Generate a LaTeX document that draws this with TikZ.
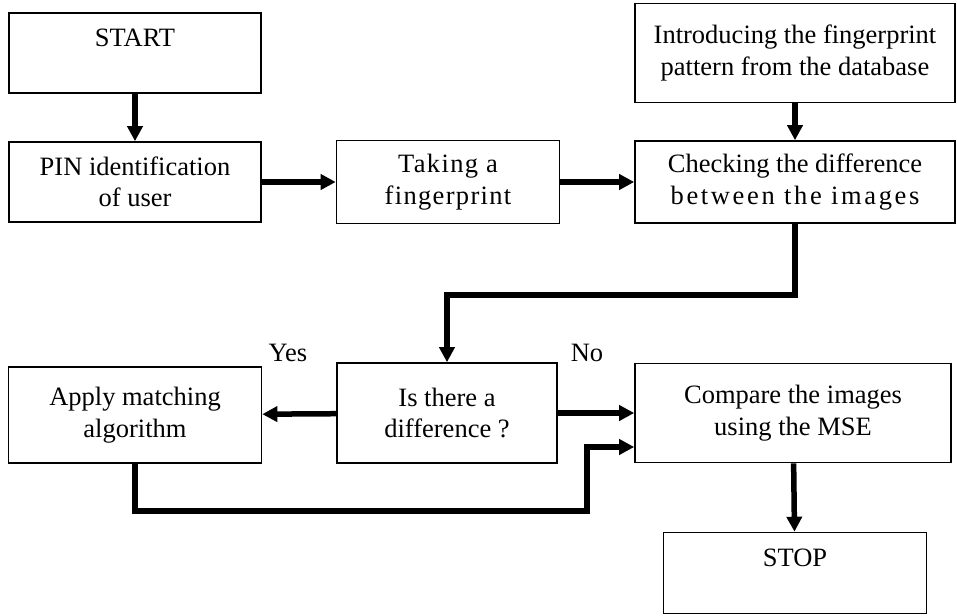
\documentclass[tikz,border=0pt]{standalone}
\usepackage{fontspec}
\setmainfont{Liberation Serif}
\newfontfamily\widefont[LetterSpace=5]{Liberation Serif}
\newfontfamily\widerfont[LetterSpace=10]{Liberation Serif}
\usetikzlibrary{arrows.meta}
\usetikzlibrary{positioning}

\begin{document}
\begin{tikzpicture}[x=1pt,y=-1pt,->,>={Triangle[length=15pt,width=15pt]},line width=5.5pt,
    box/.style={rectangle,draw,line width=1.6pt,align=center,inner sep=0pt,font=\fontsize{26.5}{31.5}\selectfont},
    tag/.style={inner sep=0pt,font=\fontsize{26.5}{31.5}\selectfont}]
  \useasboundingbox (0,0) rectangle (957,615);
  % boxes
  \node[box,minimum width=252pt,minimum height=80pt] (start) at (135,53) {START\\~};
  \node[box,minimum width=252pt,minimum height=80pt] (pin) at (135,182) {PIN identification\\of user};
  \node[box,minimum width=223pt,minimum height=83pt] (take) at (448,182) {\widefont Taking a\\\widefont fingerprint};
  \node[box,minimum width=320pt,minimum height=99pt] (intro) at (795,53) {Introducing the fingerprint\\pattern from the database};
  \node[box,minimum width=320pt,minimum height=82pt] (check) at (795,182) {Checking the difference\\\widerfont between the images};
  \node[box,minimum width=253pt,minimum height=96pt] (apply) at (135,415) {Apply matching\\algorithm};
  \node[box,minimum width=220pt,minimum height=100pt] (diff) at (447,413) {Is there a\\difference ?};
  \node[box,minimum width=316pt,minimum height=99pt] (cmp) at (793,413) {Compare the images\\using the MSE};
  \node[box,minimum width=263pt,minimum height=81pt] (stop) at (795,573) {STOP\\~};
  \node[tag] (yes) at (288,353) {Yes};
  \node[tag] (no) at (587,353) {No};
  \coordinate (low) at (135,511);
  \coordinate (up) at (587,447);
  % connectors
  \draw (start) -- (pin);
  \draw (pin) -- (take);
  \draw (take) -- (check);
  \draw (intro) -- (check);
  \draw (check.south) -- ++(0,71) -| (diff.north);
  \draw (diff) -- (apply);
  \draw (diff) -- (cmp);
  \draw (apply.south) -- (low) -| (up) -- (up -| cmp.west);
  \draw (cmp) -- (stop);
\end{tikzpicture}
\end{document}
